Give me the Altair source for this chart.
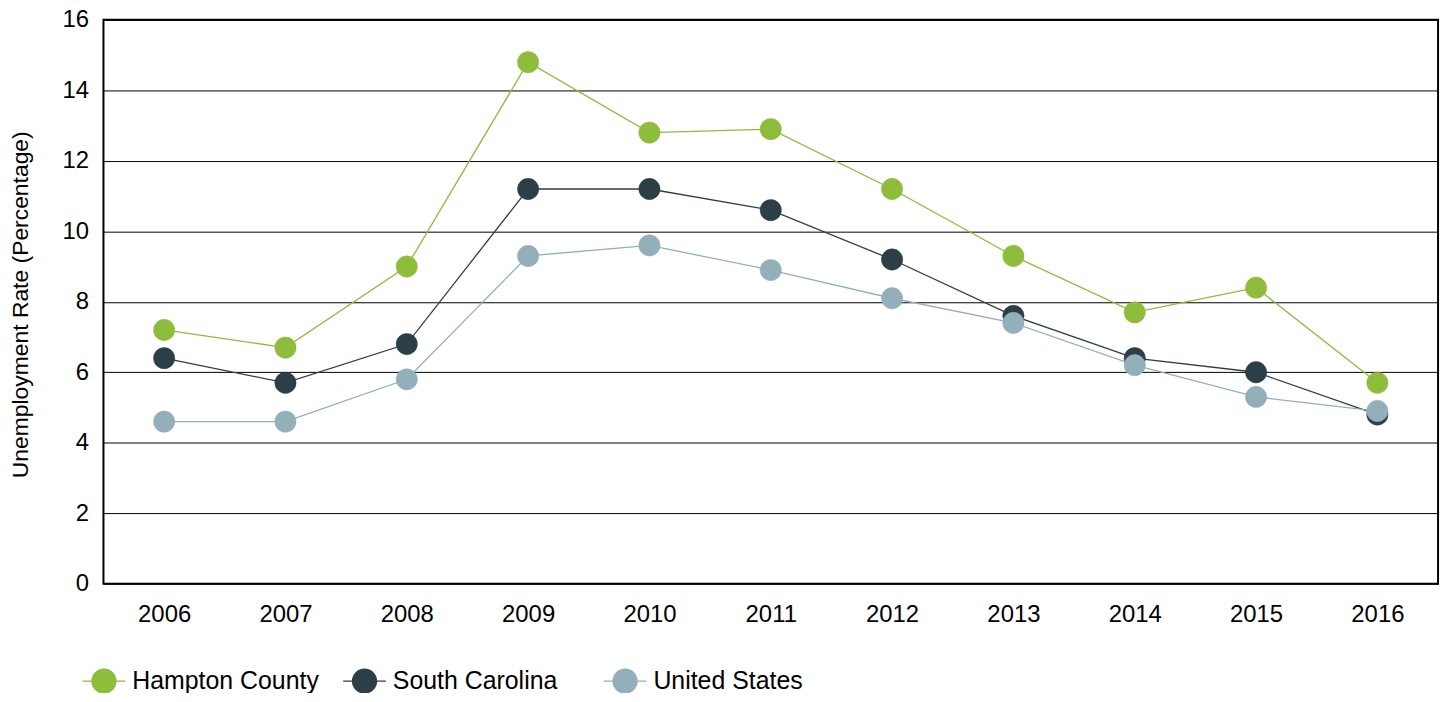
import altair as alt
import pandas as pd

years = ["2006", "2007", "2008", "2009", "2010", "2011", "2012", "2013", "2014", "2015", "2016"]
series_names = ["Hampton County", "South Carolina", "United States"]
hampton = [7.2, 6.7, 9.0, 14.8, 12.8, 12.9, 11.2, 9.3, 7.7, 8.4, 5.7]
south_carolina = [6.4, 5.7, 6.8, 11.2, 11.2, 10.6, 9.2, 7.6, 6.4, 6.0, 4.8]
united_states = [4.6, 4.6, 5.8, 9.3, 9.6, 8.9, 8.1, 7.4, 6.2, 5.3, 4.9]
y_ticks = [0, 2, 4, 6, 8, 10, 12, 14, 16]
colors = ["#8dbd3a", "#2c3f46", "#93afba"]

rows = []
for name, vals in zip(series_names, [hampton, south_carolina, united_states]):
    for i, (yr, v) in enumerate(zip(years, vals)):
        rows.append({"Year": yr, "Series": name, "Rate": v, "order": i})
df = pd.DataFrame(rows)

FONT = "Liberation Sans"
scale = alt.Scale(domain=series_names, range=colors)

legend_path = "M-1,0L1,0M-0.56,0A0.56,0.56,0,1,0,0.56,0A0.56,0.56,0,1,0,-0.56,0Z"
legend = alt.Legend(
    title=None,
    orient="none",
    legendX=-22,
    legendY=642,
    direction="horizontal",
    columns=3,
    gridAlign="all",
    columnPadding=21,
    labelOffset=6,
    labelFontSize=25,
    labelFont=FONT,
    labelColor="#000000",
    labelLimit=400,
    symbolType=legend_path,
    symbolSize=1850,
    symbolStrokeWidth=1.3,
    symbolOpacity=1,
    padding=0,
)

x_enc = alt.X(
    "Year:O",
    scale=alt.Scale(type="point", padding=0.5),
    axis=alt.Axis(
        title=None, labelAngle=0, ticks=False, domain=False,
        labelFontSize=24, labelFont=FONT, labelColor="#000000", labelPadding=19,
    ),
)
y_enc = alt.Y(
    "Rate:Q",
    scale=alt.Scale(domain=[0, 16], nice=False),
    axis=alt.Axis(
        title="Unemployment Rate (Percentage)", values=y_ticks, ticks=False, domain=False,
        grid=True, gridColor="#000000", gridWidth=1, gridOpacity=1,
        labelFontSize=24, labelFont=FONT, labelColor="#000000", labelPadding=15,
        titleFontSize=23, titleFont=FONT, titleColor="#000000", titleFontWeight="normal",
        titleX=-71, titleY=286,
    ),
)

lines = alt.Chart(df).mark_line(strokeWidth=1.3).encode(
    x=x_enc,
    y=y_enc,
    stroke=alt.Stroke("Series:N", scale=scale, legend=legend),
    order="order:Q",
)

points = alt.Chart(df).mark_point(filled=True, size=460, opacity=1, strokeWidth=0.5).encode(
    x=x_enc,
    y=y_enc,
    fill=alt.Fill("Series:N", scale=scale, legend=legend),
    stroke=alt.Stroke("Series:N", scale=scale, legend=legend),
)

chart = (
    alt.layer(lines, points)
    .properties(
        width=1342,
        height=567,
        autosize=alt.AutoSizeParams(type="none"),
        padding={"left": 96, "top": 10, "right": 8, "bottom": 108},
    )
    .configure_view(stroke="#000000", strokeWidth=2)
)

chart.save("out.html", embed_options={"renderer": "svg", "actions": False})
